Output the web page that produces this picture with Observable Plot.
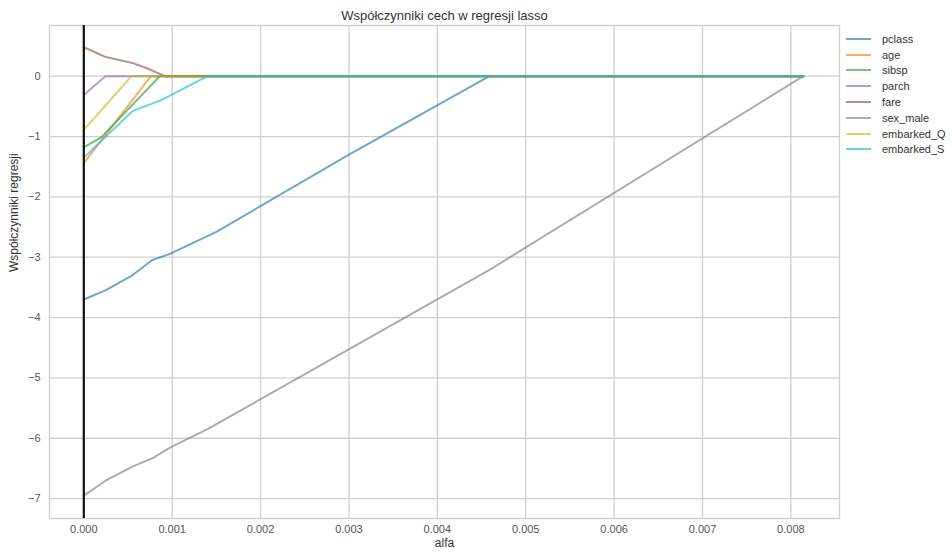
<!DOCTYPE html>
<html>
<head>
<meta charset="utf-8">
<script src="https://cdn.jsdelivr.net/npm/d3@7"></script>
<script src="https://cdn.jsdelivr.net/npm/@observablehq/plot@0.6"></script>
<style>
  html, body { margin: 0; padding: 0; background: #fff; }
  #wrap { position: relative; width: 952px; height: 552px; font-family: "Liberation Sans", Arial, sans-serif; }
  #legend { position: absolute; left: 846px; top: 31px; font-size: 11px; color: #333; }
  #legend .row { display: flex; align-items: center; height: 15.8px; }
  #legend .sw { width: 25px; height: 2px; margin-right: 11px; }
</style>
</head>
<body>
<div id="wrap"><div id="legend"></div></div>
<script>
// Series names and colours
const names = ["pclass", "age", "sibsp", "parch", "fare", "sex_male", "embarked_Q", "embarked_S"];
const colors = ["#1f77b4", "#ff7f0e", "#2ca02c", "#9467bd", "#8c564b", "#7f7f7f", "#bcbd22", "#17becf"];

// Lasso paths: [alpha, coefficient]
const pclass     = [[0, -3.70], [0.000245, -3.55], [0.00055, -3.30], [0.00077, -3.05], [0.00098, -2.94], [0.0015, -2.58], [0.003, -1.30], [0.00459, 0], [0.00814, 0]];
const age        = [[0, -1.44], [0.00076, 0], [0.00814, 0]];
const sibsp      = [[0, -1.18], [0.0002, -1.01], [0.00086, 0], [0.00814, 0]];
const parch      = [[0, -0.31], [0.000245, 0], [0.00814, 0]];
const fare       = [[0, 0.48], [0.000245, 0.32], [0.00055, 0.22], [0.00075, 0.11], [0.00092, 0], [0.00814, 0]];
const sex_male   = [[0, -6.95], [0.00025, -6.70], [0.00055, -6.47], [0.00078, -6.33], [0.00098, -6.15], [0.0014, -5.85], [0.0046, -3.2], [0.00814, 0]];
const embarked_Q = [[0, -0.89], [0.00054, 0], [0.00814, 0]];
const embarked_S = [[0, -1.35], [0.00055, -0.58], [0.00087, -0.40], [0.0014, 0], [0.00814, 0]];

const xTicks = [0, 0.001, 0.002, 0.003, 0.004, 0.005, 0.006, 0.007, 0.008];
const yTicks = [-7, -6, -5, -4, -3, -2, -1, 0];

const series = [pclass, age, sibsp, parch, fare, sex_male, embarked_Q, embarked_S];
const rows = [];
series.forEach((s, i) => s.forEach(([a, c]) => rows.push({name: names[i], alpha: a, coef: c})));

const lineOpacity = 0.65;
const chart = Plot.plot({
  width: 952,
  height: 552,
  marginLeft: 49,
  marginRight: 113,
  marginTop: 25,
  marginBottom: 34,
  style: {fontFamily: "'Liberation Sans', Arial, sans-serif", background: "#fff", overflow: "visible"},
  x: {domain: [-0.000388, 0.00855], ticks: xTicks, tickFormat: d3.format(".3f")},
  y: {domain: [-7.33, 0.84], ticks: yTicks},
  color: {domain: names, range: colors},
  marks: [
    Plot.gridX(xTicks, {stroke: "#cfcfcf", strokeOpacity: 1, strokeWidth: 1.3}),
    Plot.gridY(yTicks, {stroke: "#cfcfcf", strokeOpacity: 1, strokeWidth: 1.3}),
    Plot.frame({stroke: "#cfcfcf", strokeWidth: 1.3}),
    Plot.axisX(xTicks, {tickSize: 0, tickPadding: 7, label: null, tickFormat: d3.format(".3f"), fill: "#555", fontSize: 11}),
    Plot.axisY(yTicks, {tickSize: 0, tickPadding: 9, label: null, tickFormat: d => d < 0 ? "\u2212" + Math.abs(d) : String(d), fill: "#555", fontSize: 11}),
    Plot.line(rows, {x: "alpha", y: "coef", z: "name", stroke: "name", strokeWidth: 2, strokeOpacity: lineOpacity}),
    Plot.ruleX([0], {stroke: "#111", strokeWidth: 2.2}),
    Plot.text(["alfa"], {frameAnchor: "bottom", dy: 28, fontSize: 12, fill: "#333"}),
    Plot.text(["Współczynniki regresji"], {frameAnchor: "left", dx: -35, rotate: -90, fontSize: 12, fill: "#333"}),
    Plot.text(["Współczynniki cech w regresji lasso"], {frameAnchor: "top", dy: -15, fontSize: 13, fill: "#333"})
  ]
});
const wrap = document.getElementById("wrap");
wrap.insertBefore(chart, wrap.firstChild);

const leg = document.getElementById("legend");
names.forEach((n, i) => {
  const r = document.createElement("div");
  r.className = "row";
  const sw = document.createElement("div");
  sw.className = "sw";
  sw.style.background = colors[i];
  sw.style.opacity = lineOpacity;
  const t = document.createElement("span");
  t.textContent = n;
  r.appendChild(sw); r.appendChild(t);
  leg.appendChild(r);
});
</script>
</body>
</html>
